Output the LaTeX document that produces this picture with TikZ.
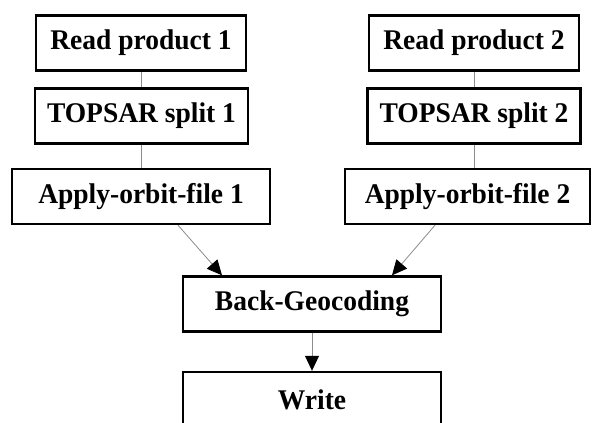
\documentclass[tikz,border=0pt]{standalone}
\usepackage{fontspec}
\usepackage{graphicx}
\setmainfont{Liberation Serif}
\usetikzlibrary{arrows.meta,calc}
% labels are set slightly narrow
\newcommand\oplabel[1]{\scalebox{0.965}[1]{#1}}
\begin{document}
\begin{tikzpicture}[x=1pt,y=-1pt,
  opbox/.style={draw=black,line width=2.4pt,fill=white,inner sep=0pt,
    minimum height=55pt,font=\fontsize{28.5}{31}\selectfont\bfseries},
  link/.style={draw=black!45,line width=0.8pt},
  flow/.style={link,-{Triangle[length=15pt,width=14pt,color=black]}}]
  \clip (0,0) rectangle (592,423);
  \fill[white] (0,0) rectangle (592,423);
  % left chain
  \node[opbox,minimum width=210pt] (r1) at (141,43) {\oplabel{Read product 1}};
  \node[opbox,minimum width=213pt] (t1) at (141.5,116) {\oplabel{TOPSAR split 1}};
  \node[opbox,minimum width=258pt] (a1) at (141,196.5) {\oplabel{Apply-orbit-file 1}};
  % right chain
  \node[opbox,minimum width=210pt] (r2) at (474,43) {\oplabel{Read product 2}};
  \node[opbox,minimum width=213pt] (t2) at (474,116) {\oplabel{TOPSAR split 2}};
  \node[opbox,minimum width=245pt] (a2) at (467.5,196.5) {\oplabel{Apply-orbit-file 2}};
  % merge and output
  \node[opbox,minimum width=258pt] (bg) at (312,304) {\oplabel{Back-Geocoding}};
  \node[opbox,minimum width=258pt,minimum height=56pt] (w) at (312,400) {\oplabel{Write}};
  % connectors
  \draw[link] (r1.south) -- (r1.south |- t1.north);
  \draw[link] (r1.south |- t1.south) -- (r1.south |- a1.north);
  \draw[link] (r2.south) -- (r2.south |- t2.north);
  \draw[link] (r2.south |- t2.south) -- (r2.south |- a2.north);
  \draw[flow] ([xshift=37pt]a1.south) -- ([xshift=-90pt]bg.north);
  \draw[flow] ([xshift=-32.5pt]a2.south) -- ([xshift=80pt]bg.north);
  \draw[flow] (bg.south) -- (w.north);
\end{tikzpicture}
\end{document}
